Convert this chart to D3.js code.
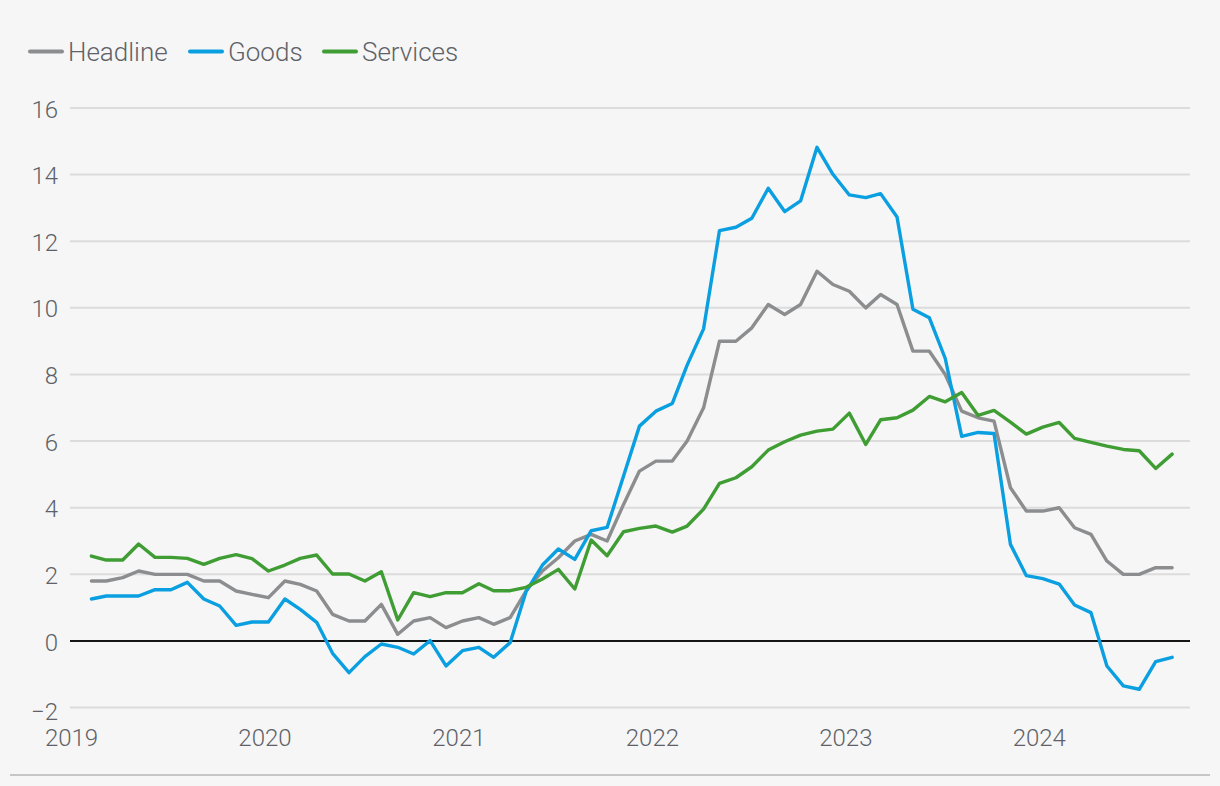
<!DOCTYPE html>
<html>
<head>
<meta charset="utf-8">
<script src="https://cdn.jsdelivr.net/npm/d3@7"></script>
<style>
  html, body { margin: 0; padding: 0; background: #f6f6f6; }
  svg { display: block; }
  .tick-label { font-family: "Roboto", "Open Sans", sans-serif; font-weight: 300; font-size: 24px; fill: #5e6268; }
  .legend-label { font-family: "Roboto", "Open Sans", sans-serif; font-weight: 300; font-size: 26px; fill: #5e6268; }
</style>
</head>
<body>
<svg id="chart" width="1220" height="786"></svg>
<script>
// ---- Data (monthly, Jan 2019 – Aug 2024, % y/y) ----
const startYear = 2019;
const seriesNames = ["Headline", "Goods", "Services"];
const seriesColors = ["#8c8d8f", "#0a9fe0", "#3f9d34"];

const headline = [
  1.8, 1.8, 1.9, 2.1, 2.0, 2.0, 2.0, 1.8, 1.8, 1.5, 1.4, 1.3,
  1.8, 1.7, 1.5, 0.8, 0.6, 0.6, 1.1, 0.2, 0.6, 0.7, 0.4, 0.6,
  0.7, 0.5, 0.7, 1.5, 2.1, 2.5, 3.0, 3.2, 3.0, 4.1, 5.1, 5.4,
  5.4, 6.0, 7.0, 9.0, 9.0, 9.4, 10.1, 9.8, 10.1, 11.1, 10.7, 10.5,
  10.0, 10.4, 10.1, 8.7, 8.7, 8.0, 6.9, 6.7, 6.6, 4.6, 3.9, 3.9,
  4.0, 3.4, 3.2, 2.4, 2.0, 2.0, 2.2, 2.2
];
const goods = [
  1.26, 1.35, 1.35, 1.35, 1.54, 1.54, 1.76, 1.26, 1.05, 0.47, 0.57, 0.57,
  1.26, 0.95, 0.56, -0.37, -0.95, -0.47, -0.09, -0.19, -0.39, 0.01, -0.75, -0.29,
  -0.19, -0.49, -0.05, 1.48, 2.28, 2.76, 2.45, 3.31, 3.41, 4.95, 6.45, 6.90,
  7.13, 8.28, 9.37, 12.32, 12.42, 12.69, 13.59, 12.89, 13.21, 14.82, 14.01, 13.39,
  13.31, 13.43, 12.73, 9.96, 9.70, 8.48, 6.14, 6.26, 6.23, 2.90, 1.96, 1.87,
  1.71, 1.08, 0.85, -0.75, -1.35, -1.45, -0.62, -0.49
];
const services = [
  2.55, 2.43, 2.43, 2.91, 2.51, 2.51, 2.48, 2.30, 2.48, 2.59, 2.47, 2.10,
  2.28, 2.48, 2.58, 2.01, 2.01, 1.80, 2.08, 0.63, 1.45, 1.33, 1.45, 1.45,
  1.72, 1.51, 1.51, 1.61, 1.86, 2.15, 1.56, 3.03, 2.56, 3.28, 3.38, 3.45,
  3.27, 3.45, 3.96, 4.73, 4.90, 5.23, 5.73, 5.98, 6.18, 6.30, 6.36, 6.84,
  5.90, 6.64, 6.70, 6.93, 7.34, 7.18, 7.46, 6.77, 6.92, 6.57, 6.21, 6.42,
  6.56, 6.08, 5.96, 5.85, 5.75, 5.71, 5.18, 5.61
];
const yTicks = [-2, 0, 2, 4, 6, 8, 10, 12, 14, 16];
const xTickYears = [2019, 2020, 2021, 2022, 2023, 2024];

// ---- Layout ----
const svg = d3.select("#chart");
const x = d3.scaleTime()
  .domain([new Date(2019, 0, 1), new Date(2024, 9, 1)])
  .range([75, 1188]);
const y = d3.scaleLinear().domain([-2, 16]).range([707.6, 108]);
const gridX0 = 70, gridX1 = 1190;

// gridlines
svg.append("g").selectAll("line").data(yTicks.filter(d => d !== 0)).join("line")
  .attr("x1", gridX0).attr("x2", gridX1)
  .attr("y1", d => y(d)).attr("y2", d => y(d))
  .attr("stroke", "#dcdcdc").attr("stroke-width", 2);

// y axis labels
const yAxis = d3.axisLeft(y).tickValues(yTicks).tickSize(0).tickPadding(0)
  .tickFormat(d => d < 0 ? "\u2212" + Math.abs(d) : d);
const gy = svg.append("g").attr("transform", "translate(58,0)").call(yAxis);
gy.select(".domain").remove();
gy.selectAll("text").attr("class", "tick-label")
  .attr("dy", d => d < 0 ? "0.48em" : "0.38em");

// x axis labels
const xAxis = d3.axisBottom(x)
  .tickValues(xTickYears.map(yr => new Date(yr, 0, 1)))
  .tickSize(0).tickPadding(0).tickFormat(d3.timeFormat("%Y"));
const gx = svg.append("g").attr("transform", "translate(0,737)").call(xAxis);
gx.select(".domain").remove();
gx.selectAll("text").attr("class", "tick-label").attr("dy", "0.36em").attr("dx", -4);

// zero line
svg.append("line")
  .attr("x1", gridX0).attr("x2", gridX1)
  .attr("y1", y(0)).attr("y2", y(0))
  .attr("stroke", "#151515").attr("stroke-width", 2);

// series lines
const allSeries = [headline, goods, services];
const line = d3.line()
  .x((d, i) => x(new Date(startYear, i + 1, 1)))
  .y(d => y(d));
svg.append("g").selectAll("path").data(allSeries).join("path")
  .attr("d", d => line(d))
  .attr("fill", "none")
  .attr("stroke", (d, i) => seriesColors[i])
  .attr("stroke-width", 3.4)
  .attr("stroke-linejoin", "round")
  .attr("stroke-linecap", "round");

// legend
const legendX = [30, 190, 324];
const lg = svg.append("g").selectAll("g").data(seriesNames).join("g")
  .attr("transform", (d, i) => `translate(${legendX[i]},51.5)`);
lg.append("line").attr("x1", 0).attr("x2", 32).attr("y1", 0).attr("y2", 0)
  .attr("stroke", (d, i) => seriesColors[i]).attr("stroke-width", 4)
  .attr("stroke-linecap", "round");
lg.append("text").attr("class", "legend-label").attr("x", 38).attr("y", 9)
  .text(d => d);

// bottom rule
svg.append("line").attr("x1", 10).attr("x2", 1210).attr("y1", 775).attr("y2", 775)
  .attr("stroke", "#c6c6c6").attr("stroke-width", 2);
</script>
</body>
</html>
